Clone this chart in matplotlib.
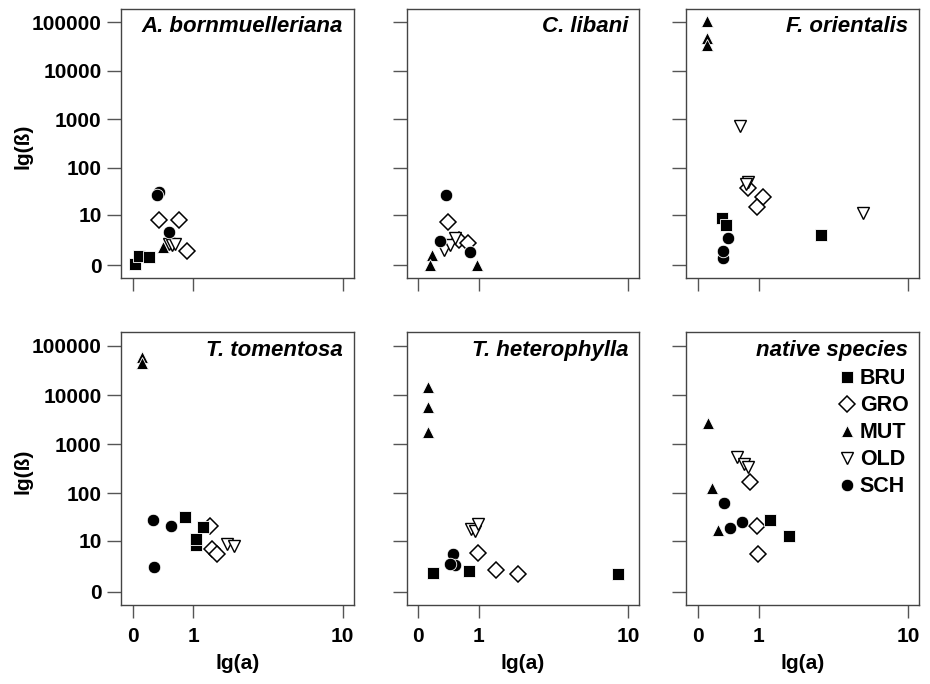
import numpy as np
import matplotlib
matplotlib.use("Agg")
import matplotlib.pyplot as plt
from matplotlib.lines import Line2D

plt.rcParams['font.family'] = ['Liberation Sans', 'DejaVu Sans']
plt.rcParams['font.weight'] = 'bold'

# values: (a, beta) per site group and species
species = ["A. bornmuelleriana", "C. libani", "F. orientalis",
           "T. tomentosa", "T. heterophylla", "native species"]
groups = ["GRO", "BRU", "MUT", "OLD", "SCH"]  # drawing order

a_bornm = {
    "BRU": ([0.03, 0.07, 0.20], [0.08, 0.55, 0.48]),
    "GRO": ([0.35, 0.70, 0.86], [7.5, 7.5, 0.94]),
    "MUT": ([0.41], [1.38]),
    "OLD": ([0.51, 0.57, 0.62], [1.80, 1.67, 1.80]),
    "SCH": ([0.355, 0.32, 0.51], [30.5, 26.7, 3.86]),
}
c_libani = {
    "BRU": ([], []),
    "GRO": ([0.41, 0.59, 0.77], [6.6, 2.36, 1.87]),
    "MUT": ([0.17, 0.15, 0.96], [0.65, 0.03, 0.0]),
    "OLD": ([0.34, 0.43, 0.52], [1.09, 1.65, 2.63]),
    "SCH": ([0.37, 0.28, 0.80], [26.9, 2.10, 0.85]),
}
f_orient = {
    "BRU": ([0.31, 0.37, 3.07], [8.3, 5.8, 3.2]),
    "GRO": ([0.77, 1.09, 0.95], [37.3, 24.8, 15.1]),
    "MUT": ([0.11, 0.11, 0.11], [105000, 47000, 34000]),
    "OLD": ([0.61, 0.76, 0.72, 5.55], [719, 50, 46, 10.8]),
    "SCH": ([0.33, 0.33, 0.41], [0.44, 0.93, 2.6]),
}
t_toment = {
    "BRU": ([0.82, 1.05, 1.05, 1.22], [33, 8.0, 10.9, 19.5]),
    "GRO": ([1.43, 1.48, 1.62], [21.2, 6.4, 4.9]),
    "MUT": ([0.11, 0.11], [60700, 44300]),
    "OLD": ([1.94, 2.17], [8.4, 7.7]),
    "SCH": ([0.26, 0.54, 0.28], [28, 21.2, 2.13]),
}
t_hetero = {
    "BRU": ([0.19, 0.79, 8.81], [1.44, 1.64, 1.26]),
    "GRO": ([0.98, 1.43, 2.13], [5.2, 1.72, 1.26]),
    "MUT": ([0.12, 0.12, 0.12], [14900, 5820, 1780]),
    "OLD": ([0.82, 0.91, 0.97], [17.6, 16.2, 23.2]),
    "SCH": ([0.49, 0.53, 0.43], [4.77, 2.49, 2.71]),
}
native = {
    "BRU": ([1.28, 1.81], [28.3, 12.5]),
    "GRO": ([0.81, 0.97, 0.99], [168, 20.5, 4.77]),
    "MUT": ([0.125, 0.17, 0.26], [2700, 131, 16.9]),
    "OLD": ([0.56, 0.69, 0.76], [555, 395, 348]),
    "SCH": ([0.35, 0.445, 0.66], [64.6, 19, 24.9]),
}
panel_data = [a_bornm, c_libani, f_orient, t_toment, t_hetero, native]

x_ticks = [0, 1, 10]
y_ticks = [0, 10, 100, 1000, 10000, 100000]

styles = {
    "BRU": dict(marker="s", ms=8.8, mfc="black", mec="white", mew=0.6),
    "GRO": dict(marker="D", ms=8.2, mfc="white", mec="black", mew=1.1),
    "MUT": dict(marker="^", ms=8.4, mfc="black", mec="white", mew=0.6),
    "OLD": dict(marker="v", ms=8.0, mfc="white", mec="black", mew=1.0),
    "SCH": dict(marker="o", ms=9.0, mfc="black", mec="white", mew=0.6),
}


def fwd(v):
    return np.log10(np.asarray(v, dtype=float) + 1)


def inv(v):
    return 10 ** np.asarray(v, dtype=float) - 1


fig = plt.figure(figsize=(9.3, 6.84), dpi=100)
lefts = [0.1301, 0.4371, 0.7380]
rows = [(0.5931, 0.3944), (0.1155, 0.3987)]
W = 0.2505

for i, (name, data) in enumerate(zip(species, panel_data)):
    r, c = divmod(i, 3)
    ax = fig.add_axes([lefts[c], rows[r][0], W, rows[r][1]])
    ax.set_xscale("function", functions=(fwd, inv))
    ax.set_yscale("function", functions=(fwd, inv))
    for g in groups:
        xs, ys = data[g]
        if xs:
            ax.plot(xs, ys, ls="none", **styles[g])
    ax.set_xlim(-0.125, 11.5)
    ax.set_ylim(-0.46, 190000)
    ax.set_xticks(x_ticks)
    ax.set_yticks(y_ticks)
    ax.minorticks_off()
    ax.tick_params(axis="y", length=10, width=1, color="#555555", pad=4, labelsize=15)
    ax.tick_params(axis="x", length=9, width=1, color="#555555", pad=7, labelsize=15)
    for s in ax.spines.values():
        s.set_color("#444444")
        s.set_linewidth(1)
    if c == 0:
        ax.set_yticklabels([str(t) for t in y_ticks], fontweight="bold")
        ax.set_ylabel("lg(ß)", fontsize=15, fontweight="bold")
        ax.yaxis.set_label_coords(-0.38, 0.49)
    else:
        ax.set_yticklabels([])
    if r == 1:
        ax.set_xticklabels([str(t) for t in x_ticks], fontweight="bold")
        ax.set_xlabel("lg(a)", fontsize=15, fontweight="bold")
        ax.xaxis.set_label_coords(0.5, -0.18)
    else:
        ax.set_xticklabels([])
    ax.text(1 - 11 / 233, 1 - 18 / 271, name, transform=ax.transAxes,
            ha="right", va="center", fontsize=16, fontweight="bold", style="italic")
    if i == 5:
        handles = [Line2D([], [], ls="none", **styles[g]) for g in ["BRU", "GRO", "MUT", "OLD", "SCH"]]
        leg = ax.legend(handles, ["BRU", "GRO", "MUT", "OLD", "SCH"], loc="upper left",
                        bbox_to_anchor=(0.643, 0.868), frameon=False, borderpad=0,
                        borderaxespad=0, handlelength=1.0, handletextpad=0.1,
                        labelspacing=0.28, prop=dict(size=15.5, weight="bold"))

fig.savefig("out.png", dpi=100)
